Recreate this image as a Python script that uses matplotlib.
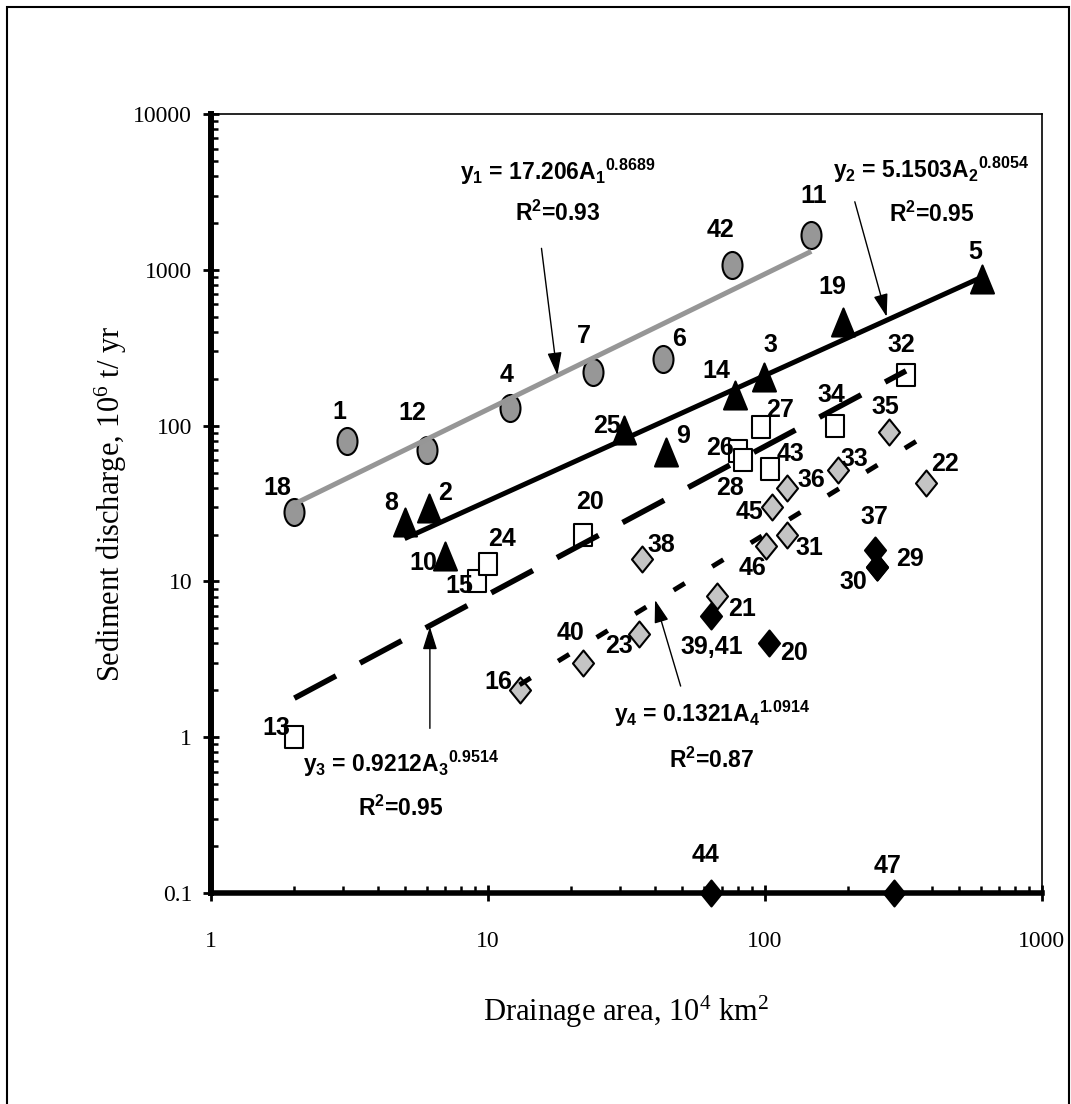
import numpy as np
import matplotlib
matplotlib.use('Agg')
import matplotlib.pyplot as plt
from matplotlib import font_manager
from matplotlib.path import Path
from matplotlib.transforms import Affine2D
from matplotlib.ticker import LogLocator, FuncFormatter, NullFormatter

# ---- data (drainage area 10^4 km2, sediment 10^6 t/yr) ----
circle_x = [2, 3.1, 6, 12, 24, 43, 76, 147]
circle_y = [28, 80, 70, 130, 220, 266, 1080, 1670]
circle_lbl = ['18', '1', '12', '4', '7', '6', '42', '11']

tri_x = [5, 6.1, 7, 31, 44, 78, 99, 192, 609]
tri_y = [24, 29.5, 14.6, 94, 67.5, 157, 206, 464, 873]
tri_lbl = ['8', '2', '10', '25', '9', '14', '3', '19', '5']

sq_x = [2, 9.1, 10, 22, 80, 83.5, 96.5, 104, 179, 323]
sq_y = [1.0, 10, 13, 20, 69, 60, 98, 53, 99, 211]
sq_lbl = ['13', '15', '24', '20', '26', '28', '27', '43', '34', '32']

dia_x = [13, 22, 35, 36, 67, 101, 106, 120, 120, 184, 281, 380]
dia_y = [2.0, 3.0, 4.6, 13.9, 8.1, 17, 30, 40, 20, 52, 91, 43]
dia_lbl = ['16', '40', '23', '38', '21', '46', '45', '36', '31', '33', '35', '22']

blk_x = [64, 103, 250, 254, 254, 64, 293]
blk_y = [6, 4, 16, 12.4, 12.4, 0.1, 0.1]
blk_lbl = ['39,41', '20', '37', '29', '30', '44', '47']

# power-law fits y = a * A^b
fit_a = [17.206, 5.1503, 0.9212, 0.1321]
fit_b = [0.8689, 0.8054, 0.9514, 1.0914]
fit_a_txt = ['17.206', '5.1503', '0.9212', '0.1321']
fit_b_txt = ['0.8689', '0.8054', '0.9514', '1.0914']
fit_r2 = ['0.93', '0.95', '0.95', '0.87']

# ---- layout: label offsets in pixels ----
circle_off = [(-17, 27), (-8, 32), (-14, 40), (-3, 36), (-9, 39), (16, 23), (-11, 38), (2, 42)]
tri_off = [(-13, 22), (17, 18), (-22, -4), (-17, 7), (17, 19), (-19, 27), (7, 35), (-11, 38), (-7, 30)]
sq_off = [(-18, 12), (-17, -2), (14, 28), (7, 36), (-18, 6), (-13, -25), (19, 20), (21, 18), (-4, 34), (-5, 33)]
dia_off = [(-21, 11), (-12, 33), (-20, -9), (19, 17), (25, -10), (-14, -19), (-22, -2), (24, 11),
           (23, -10), (16, 14), (-4, 28), (19, 22)]
blk_off = [(1, -28), (25, -7), (-1, 36), (33, 11), (-24, -12), (-6, 41), (-7, 30)]

names = {f.name for f in font_manager.fontManager.ttflist}
if 'Liberation Sans Narrow' in names:
    lab_font, lab_size, eq_size = 'Liberation Sans Narrow', 21, 19
else:
    lab_font, lab_size, eq_size = 'Liberation Sans', 18, 16.5

plt.rcParams['font.family'] = ['Liberation Serif', 'DejaVu Serif']
plt.rcParams['mathtext.fontset'] = 'custom'
plt.rcParams['mathtext.rm'] = lab_font + ':bold'
plt.rcParams['mathtext.it'] = lab_font + ':bold'
plt.rcParams['mathtext.bf'] = lab_font + ':bold'

# markers stretched vertically like the picture
m_circle = Path.unit_circle().transformed(Affine2D().scale(0.74, 1.0))
m_tri = Path([[0, 1], [-0.82, -1], [0.82, -1], [0, 1]], closed=True)
m_square = Path([[-0.82, -1], [0.82, -1], [0.82, 1], [-0.82, 1], [-0.82, -1]], closed=True)
m_diamond = Path([[0, 1], [0.81, 0], [0, -1], [-0.81, 0], [0, 1]], closed=True)

fig = plt.figure(figsize=(10.71, 11.04), dpi=100)
ax = fig.add_axes([0.197, 0.1911, 0.7759, 0.7056])
ax.set_xscale('log')
ax.set_yscale('log')
ax.set_xlim(1, 1000)
ax.set_ylim(0.1, 10000)

px = 72 / 100  # points per pixel

groups = [
    (circle_x, circle_y, circle_lbl, circle_off, m_circle, 27, '#979797'),
    (tri_x, tri_y, tri_lbl, tri_off, m_tri, 28, 'black'),
    (sq_x, sq_y, sq_lbl, sq_off, m_square, 22, 'white'),
    (dia_x, dia_y, dia_lbl, dia_off, m_diamond, 26, '#c4c4c4'),
    (blk_x, blk_y, blk_lbl, blk_off, m_diamond, 26, 'black'),
]
for gx, gy, lbls, offs, mk, ms, fc in groups:
    ax.plot(gx, gy, linestyle='none', marker=mk, markersize=ms * px, markerfacecolor=fc,
            markeredgecolor='black', markeredgewidth=1.5, clip_on=False, zorder=3)
    for xv, yv, t, (dx, dy) in zip(gx, gy, lbls, offs):
        ax.annotate(t, xy=(xv, yv), xytext=(dx, dy - 3), textcoords='offset pixels',
                    ha='center', va='center', fontsize=lab_size, fontweight='bold',
                    family=lab_font, annotation_clip=False, zorder=5)

# trend lines over the range of each group
line_styles = [
    dict(color='#969696', lw=3.6, linestyle='-'),
    dict(color='black', lw=3.6, linestyle='-'),
    dict(color='black', lw=4.0, linestyle=(0, (8.5, 4.9))),
    dict(color='black', lw=3.5, linestyle=(0, (2.7, 6.6))),
]
ranges = [(min(circle_x), max(circle_x)), (min(tri_x), max(tri_x)),
          (min(sq_x), max(sq_x)), (min(dia_x), max(dia_x))]
for a, b, (x0, x1), st in zip(fit_a, fit_b, ranges, line_styles):
    xs = np.logspace(np.log10(x0), np.log10(x1), 200)
    ax.plot(xs, a * xs ** b, solid_capstyle='butt', dash_capstyle='butt', zorder=4, **st)

# equation labels and arrows
eq_pos = [(17.9, 4246), (397, 4371), (4.85, 0.673), (64.4, 1.41)]
r2_pos = [(17.9, 2315), (401, 2280), (4.85, 0.351), (64.4, 0.714)]
arr_start = [(15.6, 1374), (211, 2735), (6.17, 1.14), (49.6, 2.13)]
arr_tip = [(17.8, 211), (275, 500), (6.17, 5.12), (40.1, 7.6)]
for i in range(4):
    n = i + 1
    eq = 'y$_%d$ = %sA$_%d{}^{%s}$' % (n, fit_a_txt[i], n, fit_b_txt[i])
    ax.text(*eq_pos[i], eq, ha='center', va='center', fontsize=eq_size,
            fontweight='bold', family=lab_font, zorder=5)
    ax.text(*r2_pos[i], 'R$^2$=' + fit_r2[i], ha='center', va='center', fontsize=eq_size,
            fontweight='bold', family=lab_font, zorder=5)
    ax.annotate('', xy=arr_tip[i], xytext=arr_start[i],
                arrowprops=dict(arrowstyle='-|>,head_length=0.7,head_width=0.22',
                                color='black', lw=1.0, mutation_scale=20,
                                shrinkA=0, shrinkB=0), zorder=5)

# axes styling
for side in ['top', 'right']:
    ax.spines[side].set_linewidth(1.2)
ax.spines['left'].set_linewidth(4.3)
ax.spines['bottom'].set_linewidth(4.0)

for axis in [ax.xaxis, ax.yaxis]:
    axis.set_major_locator(LogLocator(base=10, numticks=10))
    axis.set_minor_locator(LogLocator(base=10, subs=np.arange(2, 10), numticks=20))
    axis.set_major_formatter(FuncFormatter(lambda v, p: f'{v:g}'))
    axis.set_minor_formatter(NullFormatter())

ax.tick_params(which='major', direction='inout', length=11, width=2.0, labelsize=17,
               top=False, right=False)
ax.tick_params(which='minor', direction='in', length=5, width=1.8, top=False, right=False)
ax.tick_params(axis='x', which='major', pad=22)
ax.tick_params(axis='y', which='major', pad=8)

ax.set_xlabel('Drainage area, 10$\\mathregular{^4}$ km$\\mathregular{^2}$', fontsize=22, labelpad=30)
ax.set_ylabel('Sediment discharge, 10$\\mathregular{^6}$ t/ yr', fontsize=22, labelpad=3)

# outer frame
fig.add_artist(plt.Rectangle((7 / 1071, -0.01), 1062 / 1071, 1 - 7 / 1104 + 0.01,
                             transform=fig.transFigure, fill=False, lw=1.5, ec='black'))

fig.savefig('out.png', dpi=100)
